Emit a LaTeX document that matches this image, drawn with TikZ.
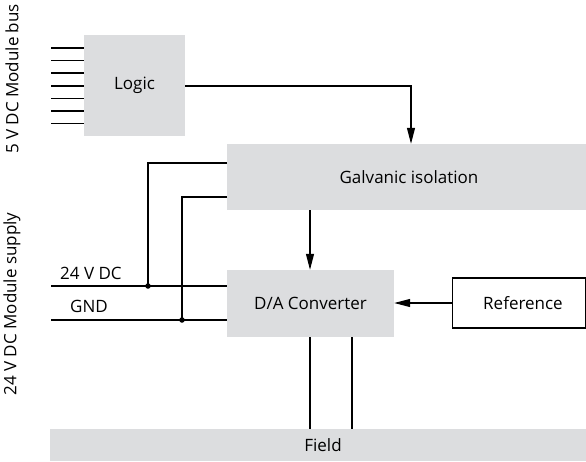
\documentclass[tikz,border=0pt]{standalone}
\usepackage{fontspec}
\setmainfont{Open Sans}
\usetikzlibrary{arrows.meta}
\definecolor{boxgray}{RGB}{220,221,223}
\begin{document}
\begin{tikzpicture}[x=1pt,y=-1pt,
  lbl/.style={font=\fontsize{17}{19}\selectfont, inner sep=0pt},
  graybox/.style={fill=boxgray, draw=none, inner sep=0pt, font=\fontsize{17}{19}\selectfont},
  wire/.style={line width=1.2pt},
  arr/.style={wire, -{Triangle[length=16pt,width=8pt]}},
  dot/.style={circle, fill=black, inner sep=0pt, minimum size=5.5pt}]
\useasboundingbox (0,0) rectangle (586,461);
% boxes
\node[graybox, minimum width=101pt, minimum height=101pt] (logic) at (134.5,85.5) {Logic};
\node[graybox, minimum width=359pt, minimum height=66pt] (gal) at (406.5,177) {};
\node[lbl] (galtext) at (409,177) {Galvanic isolation};
\node[graybox, minimum width=167pt, minimum height=67pt] (da) at (310.5,303.5) {D/A Converter};
\node[draw, line width=1.2pt, inner sep=0pt, minimum width=133pt, minimum height=50pt, font=\fontsize{17}{19}\selectfont] (ref) at (519,303) {};
\node[lbl] (reftext) at (523,303) {Reference};
\node[graybox, minimum width=536pt, minimum height=32pt] (field) at (318,445) {};
\node[lbl] (fieldtext) at (323,445) {Field};
% bus lines
\foreach \i/\yy in {1/48,2/60.5,3/73,4/86,5/98.5,6/111,7/123.5}{
  \coordinate (b\i) at (51,\yy);
  \draw[wire] (b\i) -- (b\i -| logic.west);
}
% logic to galvanic
\coordinate (lg) at (411,86);
\draw[arr] (logic.east |- lg) -- (lg) -- (lg |- gal.north);
% galvanic to D/A
\coordinate (gd) at (310,211);
\draw[arr] (gal.south -| gd) -- (gd |- da.north);
% reference to D/A
\draw[arr] (ref.west) -- (ref.west -| da.east);
% supply lines
\coordinate (s24) at (51,286);
\coordinate (sgnd) at (51,320);
\draw[wire] (s24) -- (s24 -| da.west);
\draw[wire] (sgnd) -- (sgnd -| da.west);
\node[dot] (d1) at (148,286) {};
\node[dot] (d2) at (182,320) {};
\coordinate (g1) at (227,163);
\coordinate (g2) at (227,197);
\draw[wire] (g1) -| (d1.center);
\draw[wire] (g2) -| (d2.center);
% D/A to field
\coordinate (f1) at (310,337);
\coordinate (f2) at (352,337);
\draw[wire] (f1) -- (f1 |- field.north);
\draw[wire] (f2) -- (f2 |- field.north);
% labels
\node[lbl, anchor=base west] (l24) at (60,279) {24 V DC};
\node[lbl, anchor=base west] (lgnd) at (70,312) {GND};
\node[lbl, rotate=90] (lbus) at (12,79) {5 V DC Module bus};
\node[lbl, rotate=90] (lsup) at (12,304) {24 V DC Module supply};
\end{tikzpicture}
\end{document}
